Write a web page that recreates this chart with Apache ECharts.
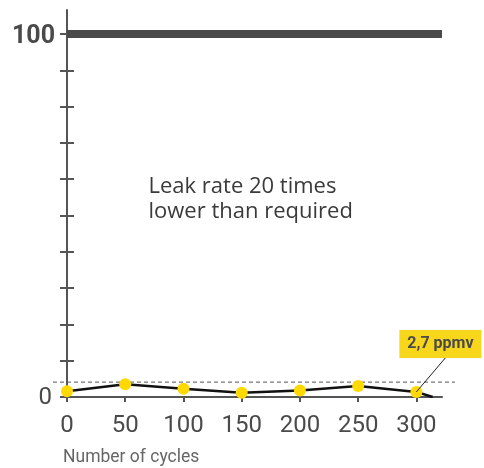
<!DOCTYPE html>
<html><head><meta charset="utf-8">
<script src="https://cdn.jsdelivr.net/npm/echarts@6/dist/echarts.min.js"></script>
<style>html,body{margin:0;padding:0;background:#fff}#c{width:484px;height:468px}</style>
</head><body><div id="c"></div>
<script>
const cycles = [0, 50, 100, 150, 200, 250, 300, 314];
const leakValues = [1.6, 3.5, 2.3, 1.2, 1.8, 3.0, 1.4, 0];
const xTicks = [0, 50, 100, 150, 200, 250, 300];
const yTicks = [0, 10, 20, 30, 40, 50, 60, 70, 80, 90, 100];
const requiredLimit = 100;
const dashedLevel = 4.1;
const annotatedIndex = 6;
const annotationText = '2,7 ppmv';
const messageLines = ['Leak rate 20 times', 'lower than required'];
const xTitle = 'Number of cycles';

const FONT = 'Roboto';
const chart = echarts.init(document.getElementById('c'));
const seriesData = cycles.map((c, i) => {
  const d = { value: [c, leakValues[i]] };
  if (i === cycles.length - 1) d.symbol = 'none';
  return d;
});
chart.setOption({
  animation: false,
  grid: { left: 67, right: 42, top: 10, bottom: 71 },
  xAxis: {
    type: 'value', min: 0, max: 322,
    splitLine: { show: false },
    axisLine: { lineStyle: { color: '#555', width: 2 } },
    axisTick: { customValues: xTicks, length: 5, lineStyle: { color: '#555', width: 2 } },
    axisLabel: { customValues: xTicks, margin: 17, fontSize: 24, color: '#4a4a4a', fontFamily: FONT }
  },
  yAxis: [{
    type: 'value', min: 0, max: 106.6,
    splitLine: { show: false },
    axisLine: { show: true, lineStyle: { color: '#555', width: 2 } },
    axisTick: { customValues: yTicks, length: 7, lineStyle: { color: '#555', width: 2 } },
    axisLabel: {
      customValues: [0, 100], margin: 12, fontFamily: FONT,
      formatter: v => v === 100 ? '{b|100}' : '{n|0}',
      rich: {
        b: { fontSize: 25, fontWeight: 'bold', color: '#4a4a4a', fontFamily: FONT, padding: [6, 0, 0, 0] },
        n: { fontSize: 24, color: '#4a4a4a', fontFamily: FONT, padding: [2, 3, 0, 0] }
      }
    }
  }, {
    type: 'value', min: 0, max: 106.6, position: 'left',
    splitLine: { show: false },
    axisLine: { show: false },
    axisTick: { inside: true, customValues: yTicks.slice(1, 10), length: 7, lineStyle: { color: '#555', width: 2 } },
    axisLabel: { show: false }
  }],
  series: [{
    type: 'line', data: seriesData,
    symbol: 'circle', symbolSize: 12,
    itemStyle: { color: '#ffd900' },
    lineStyle: { color: '#111', width: 2.5 },
    z: 5,
    markLine: {
      silent: true, symbol: 'none', label: { show: false },
      lineStyle: { color: '#4a4a4a', width: 8, type: 'solid' },
      data: [{ yAxis: requiredLimit }]
    }
  }]
});

const p = chart.convertToPixel({ gridIndex: 0 }, [cycles[annotatedIndex], leakValues[annotatedIndex]]);
const dashY = chart.convertToPixel({ gridIndex: 0 }, [0, dashedLevel])[1];
const x0 = chart.convertToPixel({ gridIndex: 0 }, [0, 0]);
const textX = chart.convertToPixel({ gridIndex: 0 }, [70, 0])[0];
const lineY = chart.convertToPixel({ gridIndex: 0 }, [0, 54.5])[1];
chart.setOption({
  graphic: [
    { type: 'line', z: 1, shape: { x1: x0[0] - 14, y1: dashY, x2: 455, y2: dashY },
      style: { stroke: '#555', lineWidth: 1, lineDash: [4, 3] } },
    { type: 'line', z: 10, shape: { x1: p[0], y1: p[1], x2: p[0] + 29, y2: p[1] - 34 },
      style: { stroke: '#222', lineWidth: 1 } },
    { type: 'rect', z: 10, shape: { x: p[0] - 17, y: p[1] - 62, width: 82, height: 28 },
      style: { fill: '#f7d61c' } },
    { type: 'text', z: 11, style: { x: p[0] + 24, y: p[1] - 48, text: annotationText, align: 'center', verticalAlign: 'middle',
      font: 'bold 16px ' + FONT, fill: '#4a4a4a' } },
    { type: 'text', style: { x: textX, y: lineY, text: messageLines.join('\n'), align: 'left', verticalAlign: 'middle',
      font: '22px "Open Sans"', fill: '#3a3a3a', lineHeight: 25 } },
    { type: 'text', style: { x: x0[0] - 4, y: 458, text: xTitle, align: 'left', verticalAlign: 'middle',
      font: '17.5px ' + FONT, fill: '#666' } }
  ]
});
</script></body></html>
